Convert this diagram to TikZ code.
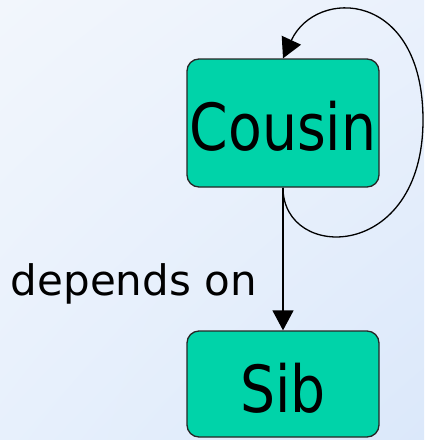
\documentclass[tikz,border=0pt]{standalone}
\usepackage{fontspec}
\setmainfont{DejaVu Sans}
\newfontfamily\boxfont[FakeStretch=0.85]{DejaVu Sans}
\usetikzlibrary{arrows.meta,shadings}
\definecolor{bgtl}{RGB}{242,246,252}
\definecolor{bgtr}{RGB}{234,241,252}
\definecolor{bgbl}{RGB}{231,240,252}
\definecolor{bgbr}{RGB}{219,232,250}
\definecolor{boxfill}{RGB}{0,211,169}
\tikzset{
  classbox/.style={draw=black!85, line width=1.3pt, fill=boxfill,
    rounded corners=12pt, minimum width=192pt, inner sep=0pt,
    font=\boxfont\fontsize{65}{65}\selectfont, text depth=0pt},
  dep/.style={line width=1.3pt, -{Triangle[length=20pt,width=21pt]}},
  deplabel/.style={font=\fontsize{42}{42}\selectfont, inner sep=0pt}
}
\begin{document}
\begin{tikzpicture}[x=1pt,y=-1pt]
  \shade[upper left=bgtl, upper right=bgtr, lower left=bgbl, lower right=bgbr]
    (0,0) rectangle (424,440);
  \useasboundingbox (0,0) rectangle (424,440);

  \node[classbox, minimum height=128pt, text height=54pt] (cousin) at (283,123) {Cousin};
  \node[classbox, minimum height=106pt, text height=56pt] (sib) at (283,384) {Sib};

  \draw[dep] (cousin.south) -- (sib.north);
  \node[deplabel, anchor=base east] (lbl) at (257,295) {depends on};

  \draw[dep] (cousin.south)
    .. controls (283,262) and (423,262) .. (423,120)
    .. controls (423,-10) and (316,-13) .. (cousin.north);
\end{tikzpicture}
\end{document}
